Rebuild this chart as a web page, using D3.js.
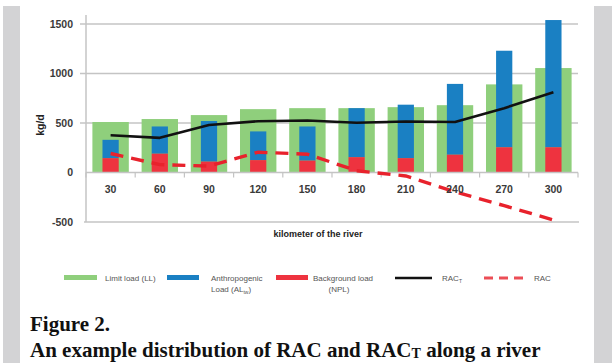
<!DOCTYPE html>
<html><head><meta charset="utf-8">
<script src="https://cdn.jsdelivr.net/npm/d3@7"></script>
<style>
html,body{margin:0;padding:0;background:#fff;}
svg{display:block;}
</style></head>
<body>
<svg id="chart" width="612" height="363"></svg>
<script>
const categories = ["30","60","90","120","150","180","210","240","270","300"];
const limitLoad = [510, 540, 580, 640, 650, 650, 660, 680, 890, 1055];
const backgroundLoad = [145, 190, 110, 125, 120, 155, 145, 180, 255, 255];
const anthropogenicLoad = [185, 275, 410, 290, 345, 495, 540, 715, 975, 1285];
const racT = [377, 350, 480, 518, 525, 502, 515, 510, 650, 810];
const rac = [192, 80, 65, 205, 185, 18, -35, -195, -335, -480];
const yTicks = [-500, 0, 500, 1000, 1500];

const svg = d3.select("#chart");
// gray side strips
svg.append("rect").attr("x",3).attr("y",6).attr("width",17).attr("height",357).attr("fill","#d3d3d5");
svg.append("rect").attr("x",594).attr("y",6).attr("width",18).attr("height",357).attr("fill","#d3d3d5");

const x = d3.scaleBand().domain(categories).range([86, 578]).paddingInner(0).paddingOuter(0);
const y = d3.scaleLinear().domain([-500, 1500]).range([222, 24]);
const bw = x.bandwidth();
const cx = d => x(d) + bw/2;
const axisColor = "#c4c4c4";
const g = svg.append("g");

// gridlines
g.selectAll(".grid").data(yTicks.filter(t => t > 0)).join("line")
  .attr("x1", 80).attr("x2", 578).attr("y1", d => y(d)).attr("y2", d => y(d))
  .attr("stroke", axisColor).attr("stroke-width", 1.5);
// bottom line at -500
g.append("line").attr("x1",84).attr("x2",579).attr("y1",y(-500)).attr("y2",y(-500))
  .attr("stroke",axisColor).attr("stroke-width",1.5);
// y axis line
g.append("line").attr("x1",86).attr("x2",86).attr("y1",y.range()[1]-9).attr("y2",y(-500))
  .attr("stroke",axisColor).attr("stroke-width",1.5);

// green bars
g.selectAll(".ll").data(categories).join("rect")
  .attr("x", (d) => cx(d) - bw*0.37).attr("width", bw*0.74)
  .attr("y", (d,i) => y(limitLoad[i])).attr("height", (d,i) => y(0) - y(limitLoad[i]))
  .attr("fill", "#8fcf7c");
// blue (stacked on red)
g.selectAll(".al").data(categories).join("rect")
  .attr("x", d => cx(d) - bw*0.165).attr("width", bw*0.33)
  .attr("y", (d,i) => y(backgroundLoad[i] + anthropogenicLoad[i]))
  .attr("height", (d,i) => y(backgroundLoad[i]) - y(backgroundLoad[i] + anthropogenicLoad[i]))
  .attr("fill", "#1a80c3");
// red
g.selectAll(".npl").data(categories).join("rect")
  .attr("x", d => cx(d) - bw*0.165).attr("width", bw*0.33)
  .attr("y", (d,i) => y(backgroundLoad[i])).attr("height", (d,i) => y(0) - y(backgroundLoad[i]))
  .attr("fill", "#ee333f");

// x axis at zero
g.append("line").attr("x1",86).attr("x2",578).attr("y1",y(0)).attr("y2",y(0))
  .attr("stroke",axisColor).attr("stroke-width",1.5);
g.selectAll(".xt").data(categories.concat(["end"])).join("line")
  .attr("x1", (d,i) => i < categories.length ? x(d) : x.range()[1])
  .attr("x2", (d,i) => i < categories.length ? x(d) : x.range()[1])
  .attr("y1", y(0)).attr("y2", y(0)+5)
  .attr("stroke", axisColor).attr("stroke-width", 1.2);

// lines
const line = d3.line().x((d,i) => cx(categories[i])).y(d => y(d));
g.append("path").datum(racT).attr("d", line).attr("fill","none")
  .attr("stroke","#111").attr("stroke-width",2.6).attr("stroke-linejoin","round");
g.append("path").datum(rac).attr("d", line).attr("fill","none")
  .attr("stroke","#e8222c").attr("stroke-width",3.4).attr("stroke-dasharray","13,8");

// tick labels
const font = "'Liberation Sans', Arial, sans-serif";
g.selectAll(".yl").data(yTicks).join("text")
  .attr("x", 73).attr("y", d => y(d)).attr("dy","0.35em").attr("text-anchor","end")
  .attr("font-family",font).attr("font-weight","bold").attr("font-size",10.5).attr("fill","#3a3a3a")
  .text(d => d);
g.selectAll(".xl").data(categories).join("text")
  .attr("x", d => cx(d)).attr("y", 193).attr("text-anchor","middle")
  .attr("font-family",font).attr("font-weight","bold").attr("font-size",10.5).attr("fill","#3a3a3a")
  .text(d => d);
svg.append("text").attr("transform","translate(44,125) rotate(-90)").attr("text-anchor","middle")
  .attr("font-family",font).attr("font-weight","bold").attr("font-size",10.5).attr("fill","#222").text("kg/d");
svg.append("text").attr("x",318).attr("y",237).attr("text-anchor","middle")
  .attr("font-family",font).attr("font-weight","bold").attr("font-size",9).attr("fill","#222")
  .text("kilometer of the river");

// legend
const lg = svg.append("g").attr("font-family",font).attr("font-size",8).attr("fill","#555");
lg.append("rect").attr("x",64).attr("y",275).attr("width",33).attr("height",5).attr("fill","#8fcf7c");
lg.append("text").attr("x",105).attr("y",281).text("Limit load (LL)");
lg.append("rect").attr("x",167).attr("y",275).attr("width",32).attr("height",5).attr("fill","#1a80c3");
lg.append("text").attr("x",211).attr("y",281).text("Anthropogenic");
const t2 = lg.append("text").attr("x",211).attr("y",292);
t2.append("tspan").text("Load (AL");
t2.append("tspan").attr("font-size",5).attr("dy",2).text("tw");
t2.append("tspan").attr("dy",-2).text(")");
lg.append("rect").attr("x",276).attr("y",275).attr("width",32).attr("height",5).attr("fill","#ee333f");
lg.append("text").attr("x",313).attr("y",281).text("Background load");
lg.append("text").attr("x",339).attr("y",292).attr("text-anchor","middle").text("(NPL)");
lg.append("line").attr("x1",395).attr("x2",432).attr("y1",278).attr("y2",278).attr("stroke","#111").attr("stroke-width",2.6);
const t3 = lg.append("text").attr("x",442).attr("y",281);
t3.append("tspan").text("RAC");
t3.append("tspan").attr("font-size",5).attr("dy",2).text("T");
lg.append("line").attr("x1",484).attr("x2",523).attr("y1",278).attr("y2",278).attr("stroke","#e8222c")
  .attr("stroke-width",3).attr("stroke-dasharray","9,6").attr("opacity",0.8);
lg.append("text").attr("x",534).attr("y",281).text("RAC");

// caption
const cap = svg.append("g").attr("font-family","'Liberation Serif', 'Times New Roman', serif").attr("font-weight","bold").attr("fill","#111");
cap.append("text").attr("x",30).attr("y",331).attr("font-size",21).text("Figure 2.");
const c2 = cap.append("text").attr("x",30).attr("y",357).attr("font-size",21);
c2.append("tspan").text("An example distribution of RAC and RAC");
c2.append("tspan").attr("font-size",14).attr("dy",1).text("T");
c2.append("tspan").attr("dy",-1).text(" along a river");
</script>
</body></html>
